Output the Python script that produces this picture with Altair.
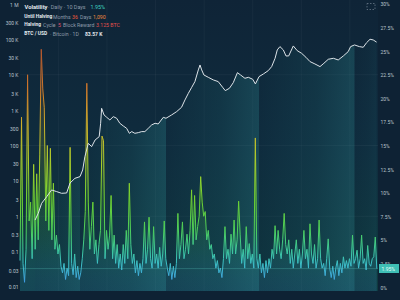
import altair as alt
import pandas as pd

FONT = "Roboto"

# ---------------- data ----------------
years = list(range(2010, 2025))

# 10-day daily volatility (%), one sample every 1/16 year from the left edge
vol_start = 2009.52
vol_step = 1 / 16
vol_values = [
    2.8, 18, 2.5, 0.5, 4, 22.5, 7, 9,
    3, 13, 4, 12, 5, 14, 25.2, 21, 19, 7, 15, 6, 14.7, 5, 11, 4,
    5.5, 3.5, 4.5, 2.2, 1.5, 2.5, 0.8, 2.0, 1.2, 14.8, 2.5, 1.3, 3.5, 1.0, 2.2, 0.8,
    1.5, 3, 5, 8, 21.6, 9, 4, 6.4, 9, 3.5, 5, 2.5, 4.5, 6, 16, 15.5,
    3, 6, 4, 5.5, 9.7, 3, 5.5, 2.5, 4.5, 2, 3.5, 1.8, 4.5, 2.5, 6, 3,
    11, 4.5, 2.5, 3.5, 1.5, 2.8, 1.2, 2.5, 1.5, 3, 6.9, 2.5, 4, 7.4, 3, 2,
    6.4, 2.5, 3.5, 2, 4.2, 2.2, 3.5, 7, 3, 2, 1.2, 2.5, 0.8, 2.2, 1.0, 2.5,
    7.8, 3, 4.5, 6.9, 3, 4, 5.6, 3.5, 6, 10.3, 4.5, 9.7, 5, 6.4, 7.5, 11.7,
    9, 7.5, 8, 5, 6, 4, 4.5, 3, 3.5, 2, 2.8, 1.5, 2, 1.0, 3, 6.4,
    3, 4, 2.5, 5.6, 3.5, 7.1, 3.5, 5, 9.1, 5.6, 2.5, 4, 2, 6.4, 3, 4.6,
    2.5, 3.5, 2, 15.8, 3, 2, 3.5, 1.5, 2.5, 1.0, 2.8, 1.5, 3, 2, 4, 3,
    6.5, 3.5, 6, 4, 3, 5, 7.8, 4.5, 3.5, 5, 2.5, 4, 2, 3.5, 5, 2.5,
    4, 2, 3.5, 6, 3, 4, 2, 6.7, 3.5, 2.5, 4.5, 2, 3, 7.1, 3, 2,
    2.5, 1.2, 3, 5.1, 2, 1.0, 2.2, 0.8, 2, 2.8, 1.2, 2.5, 1.5, 3.2, 2, 2.8,
    2, 3, 2.2, 5.5, 2.5, 3, 3.9, 2, 3, 5.5, 2.5, 3, 1.8, 4.4, 2.5, 2.2,
    3, 3.2, 5.3, 1.95,
]

# BTC / USD price (log axis)
price_t = [
    2010.14, 2010.27, 2010.41, 2010.62, 2010.82, 2011.03, 2011.23, 2011.44, 2011.58, 2011.78,
    2011.99, 2012.10, 2012.19, 2012.33, 2012.47, 2012.61, 2012.78, 2012.84, 2012.88, 2012.98,
    2013.09, 2013.22, 2013.36, 2013.50, 2013.63, 2013.77, 2013.91, 2014.02, 2014.12, 2014.25,
    2014.39, 2014.53, 2014.66, 2014.80, 2014.94, 2015.08, 2015.21, 2015.42, 2015.53, 2015.76,
    2015.97, 2016.17, 2016.31, 2016.45, 2016.59, 2016.72, 2016.86, 2016.93, 2017.00, 2017.09,
    2017.27, 2017.48, 2017.68, 2017.86, 2017.97, 2018.14, 2018.30, 2018.47, 2018.60, 2018.78,
    2018.92, 2019.10, 2019.21, 2019.36, 2019.54, 2019.74, 2019.88, 2020.02, 2020.11, 2020.22,
    2020.36, 2020.47, 2020.58, 2020.77, 2020.93, 2021.11, 2021.29, 2021.46, 2021.66, 2021.87,
    2022.03, 2022.21, 2022.42, 2022.62, 2022.83, 2023.03, 2023.13, 2023.29, 2023.49, 2023.65,
    2023.79, 2023.93, 2024.06, 2024.20,
]
price_v = [
    0.78, 1.21, 2.32, 3.58, 5.53, 4.97, 4.45, 4.55, 8.7, 11.8,
    13.2, 20.3, 48, 115, 93, 143, 178, 425, 1127, 730,
    627, 527, 655, 588, 425, 357, 306, 221, 247, 221,
    231, 247, 247, 306, 381, 425, 406, 627, 588, 730,
    908, 1202, 1938, 2990, 4425, 6400, 13670, 18900, 13670, 9860,
    8470, 7130, 6400, 4425, 3560, 4140, 5990, 11480, 9860, 7940,
    8470, 7440, 5500, 8850, 10540, 13090, 17000, 29200, 50300, 62500,
    50300, 34000, 34000, 65200, 48100, 40500, 31200, 23500, 20200, 17000,
    21100, 27400, 29200, 26200, 34000, 45100, 62500, 69600, 62500, 59800,
    81100, 100700, 96400, 83570,
]

halving_cycles = [2010.14, 2011.99, 2015.53, 2019.36, 2023.29, 2024.20]
cycle_strength = [0.18, 0.33, 0.33, 0.33, 0.1]

price_ticks = [0.01, 0.03, 0.1, 0.3, 1, 3, 10, 30, 100, 300,
               1000, 3000, 10000, 30000, 100000, 300000, 1000000]
vol_ticks = [0, 2.5, 5, 7.5, 10, 12.5, 15, 17.5, 20, 22.5, 25, 27.5, 30]

# ---------------- frames ----------------
vol_df = pd.DataFrame({"t": [vol_start + i * vol_step for i in range(len(vol_values))],
                       "v": vol_values})
price_df = pd.DataFrame({"t": price_t, "p": price_v})
one = pd.DataFrame({"a": [0]})

# ---------------- layout ----------------
W, H = 358, 291
X_DOM = [2009.52, 2024.257]
P_DOM = [0.007705, 1.2978e6]
V_DOM = [-0.424, 30.424]

xsc = alt.Scale(domain=X_DOM, nice=False, zero=False)
psc = alt.Scale(type="log", domain=P_DOM, nice=False)
vsc = alt.Scale(domain=V_DOM, nice=False, zero=False)

AX = dict(domain=False, ticks=False, grid=False, labelColor="#b9c3cc",
          labelFont=FONT, labelFontSize=5, labelPadding=2, title=None,
          labelFlush=False, labelOverlap=False)

# background gradient of the plot area
bg = alt.Chart(one).mark_rect(
    color=alt.LinearGradient(
        gradient="linear", x1=0, x2=0, y1=0, y2=1,
        stops=[alt.GradientStop(color="#0f2437", offset=0),
               alt.GradientStop(color="#0f2c3e", offset=0.5),
               alt.GradientStop(color="#0f3a3f", offset=1)])
).encode(x=alt.value(0), x2=alt.value(W), y=alt.value(0), y2=alt.value(H))

# faint grid
hgrid = alt.Chart(pd.DataFrame({"v": [7.5, 15, 22.5]})).mark_rule(
    color="#ffffff", opacity=0.045, strokeWidth=1
).encode(y=alt.Y("v:Q", scale=vsc, axis=None), x=alt.value(0), x2=alt.value(W))
vgrid = alt.Chart(pd.DataFrame({"t": [2011.1, 2013.1, 2015.1, 2017.1, 2019.1, 2021.1, 2023.1]})).mark_rule(
    color="#ffffff", opacity=0.04, strokeWidth=1
).encode(x=alt.X("t:Q", scale=xsc, axis=None), y=alt.value(0), y2=alt.value(H))

# halving-cycle shading under the price line (brightens toward the next halving)
cycle_layers = []
for i in range(len(halving_cycles) - 1):
    a, b = halving_cycles[i], halving_cycles[i + 1]
    sub = price_df[(price_df.t >= a) & (price_df.t <= b)].reset_index(drop=True)
    s = cycle_strength[i]
    cycle_layers.append(
        alt.Chart(sub).mark_area(
            color=alt.LinearGradient(
                gradient="linear", x1=0, x2=1, y1=0, y2=0,
                stops=[alt.GradientStop(color="#0f2c3e", offset=0),
                       alt.GradientStop(color="#18505c", offset=0.6),
                       alt.GradientStop(color="#2a8088", offset=1)]),
            opacity=s,
        ).encode(x=alt.X("t:Q", scale=xsc, axis=None),
                 y=alt.Y("p:Q", scale=psc, axis=None, stack=None),
                 y2=alt.datum(P_DOM[0]))
    )

# volatility colour ramp (by value)
anchors = [(25.2, "#b4562e"), (21, "#d0782a"), (17, "#cdb22a"), (13, "#a8d02a"),
           (9, "#6cd232"), (6, "#4ccf5c"), (4, "#3ec99a"), (2.5, "#3cbfc6"),
           (1, "#40a8dc"), (-0.5, "#3f96e0")]


def ramp(vtop, vbot):
    stops = []
    for v, c in anchors:
        off = (vtop - v) / (vtop - vbot)
        off = min(max(off, 0), 1)
        stops.append(alt.GradientStop(color=c, offset=round(off, 4)))
    return alt.LinearGradient(gradient="linear", x1=0, x2=0, y1=0, y2=1, stops=stops)


vmax, vmin = max(vol_values), min(vol_values)

vol_area = alt.Chart(vol_df).mark_area(
    color=ramp(vmax, V_DOM[0]), opacity=0.14
).encode(x=alt.X("t:Q", scale=xsc, axis=None),
         y=alt.Y("v:Q", scale=vsc, axis=None, stack=None),
         y2=alt.datum(V_DOM[0]))

vol_line = alt.Chart(vol_df).mark_line(
    stroke=ramp(vmax, vmin), strokeWidth=1.0
).encode(
    x=alt.X("t:Q", scale=xsc,
            axis=alt.Axis(values=years, format="d", orient="bottom", **AX)),
    y=alt.Y("v:Q", scale=vsc,
            axis=alt.Axis(values=vol_ticks, orient="right",
                          labelExpr="format(datum.value, '~g') + '%'", **AX)),
)

cur_rule = alt.Chart(pd.DataFrame({"v": [1.95]})).mark_rule(
    color="#5fd0c4", opacity=0.35, strokeWidth=0.8
).encode(y=alt.Y("v:Q", scale=vsc, axis=None), x=alt.value(0), x2=alt.value(W))

price_line = alt.Chart(price_df).mark_line(
    color="#dde3e8", strokeWidth=1.0
).encode(
    x=alt.X("t:Q", scale=xsc, axis=None),
    y=alt.Y("p:Q", scale=psc,
            axis=alt.Axis(values=price_ticks, orient="left",
                          labelExpr="datum.value >= 1000000 ? '1 M' : datum.value >= 1000 ? format(datum.value / 1000, '~g') + ' K' : format(datum.value, '~g')",
                          **AX)),
)

# current value label on right axis
cur_box = alt.Chart(one).mark_rect(color="#3fbfb5").encode(
    x=alt.value(W + 1), x2=alt.value(W + 21), y=alt.value(264), y2=alt.value(273))
cur_txt = alt.Chart(one).mark_text(
    text="1.95%", font=FONT, fontSize=5, color="#e9fffb", align="left", baseline="middle"
).encode(x=alt.value(W + 3.5), y=alt.value(268.7))

# full-screen icon (top right)
icon = alt.Chart(one).mark_rect(
    filled=False, stroke="#8d9baa", strokeWidth=0.7, strokeDash=[1.5, 1.5], opacity=0.8
).encode(x=alt.value(347), x2=alt.value(355), y=alt.value(3.5), y2=alt.value(9.5))


def txt(s, x, y, color, size=5.6, weight="normal"):
    return alt.Chart(one).mark_text(
        text=s, align="left", baseline="middle", font=FONT, fontSize=size,
        fontWeight=weight, color=color
    ).encode(x=alt.value(x), y=alt.value(y))


GREY = "#8d9baa"
WHITE = "#e4e9ee"
header = [
    txt("Volatility", 4.5, 7, WHITE, 5.8, "bold"),
    txt("· Daily · 10 Days", 28, 7, GREY, 5.4),
    txt("1.95%", 70.5, 7, "#3fd2c2", 5.4),
    txt("Until Halving", 4.3, 16.7, WHITE, 4.9, "bold"),
    txt("Months", 33, 16.7, GREY, 5.2),
    txt("36", 52, 16.7, "#ee5a3c", 5.2),
    txt("Days", 60, 16.7, GREY, 5.2),
    txt("1,090", 73, 16.7, "#f08a3e", 5.2),
    txt("Halving", 4.3, 25.3, WHITE, 4.9, "bold"),
    txt("Cycle", 23, 25.3, GREY, 5.2),
    txt("5", 38, 25.3, "#e4506a", 5.2),
    txt("Block Reward", 43, 25.3, GREY, 5.2),
    txt("3.125 BTC", 76, 25.3, "#e2504c", 5.2),
    txt("BTC / USD", 4.3, 33.7, WHITE, 4.9, "bold"),
    txt("· Bitcoin · 1D", 30, 33.7, GREY, 5.2),
    txt("83.57 K", 65, 33.7, WHITE, 5.0, "bold"),
]

chart = alt.layer(
    bg, hgrid, vgrid, *cycle_layers, vol_area, vol_line, cur_rule, price_line,
    cur_box, cur_txt, icon, *header
).resolve_scale(y="independent").properties(
    width=W, height=H, autosize="none",
    padding={"left": 20, "top": 0, "right": 22, "bottom": 9},
).configure(background="#0e2234").configure_view(stroke=None)

chart.save("out.html", embed_options={"renderer": "svg", "actions": False})
